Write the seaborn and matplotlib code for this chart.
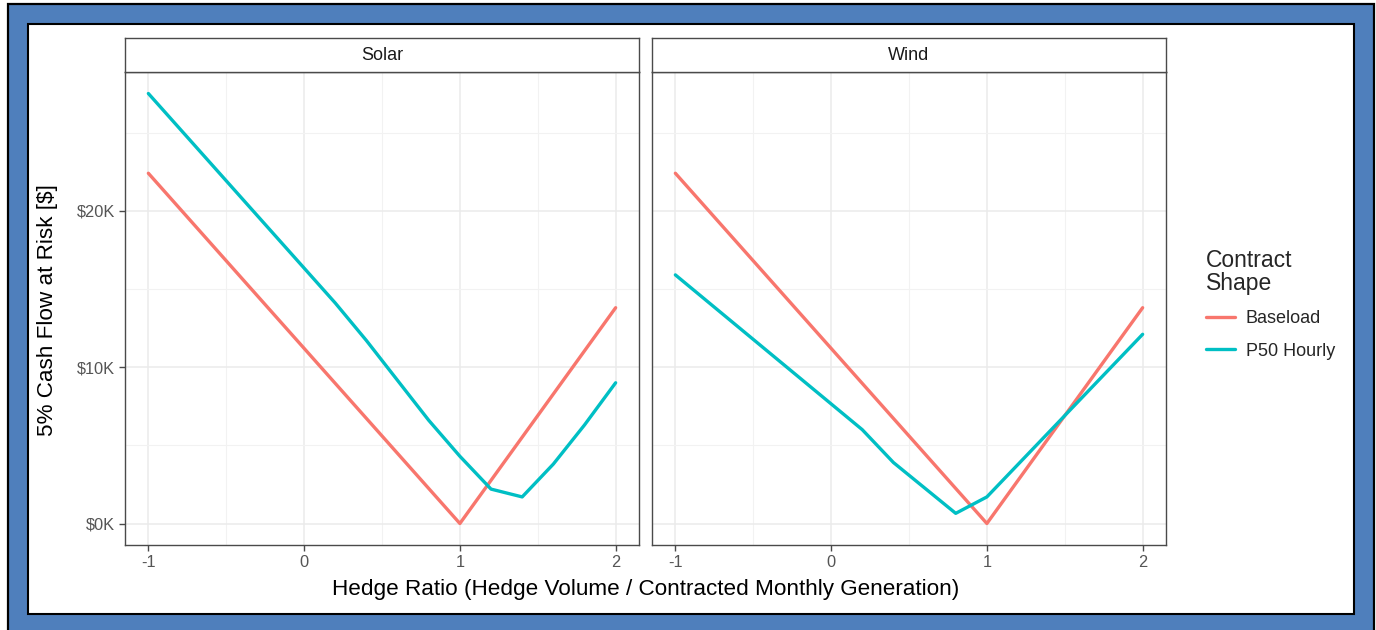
import matplotlib
matplotlib.use("Agg")
import matplotlib.pyplot as plt
from matplotlib.patches import Rectangle
from matplotlib.ticker import FuncFormatter, FixedLocator
import numpy as np
import pandas as pd
import seaborn as sns

# ---- data (cash flow at risk, dollars) ----
technologies = ["Solar", "Wind"]
shapes = ["Baseload", "P50 Hourly"]

solar_base_ratio = [-1.0, 1.0, 2.0]
solar_base_car = [22400, 0, 13800]

solar_p50_ratio = [-1.0, 0.2, 0.4, 0.8, 1.0, 1.2, 1.4, 1.6, 1.8, 2.0]
solar_p50_car = [27500, 14100, 11700, 6600, 4300, 2200, 1700, 3800, 6300, 9000]

wind_base_ratio = [-1.0, 1.0, 2.0]
wind_base_car = [22400, 0, 13800]

wind_p50_ratio = [-1.0, 0.2, 0.4, 0.8, 1.0, 2.0]
wind_p50_car = [15900, 6000, 3900, 650, 1700, 12100]

x_ticks = [-1, 0, 1, 2]
x_tick_labels = ["-1", "0", "1", "2"]
y_ticks = [0, 10000, 20000]


def block(tech, shape, xs, ys):
    return pd.DataFrame({"tech": tech, "shape": shape, "ratio": xs, "car": ys})


df = pd.concat([
    block("Solar", "Baseload", solar_base_ratio, solar_base_car),
    block("Solar", "P50 Hourly", solar_p50_ratio, solar_p50_car),
    block("Wind", "Baseload", wind_base_ratio, wind_base_car),
    block("Wind", "P50 Hourly", wind_p50_ratio, wind_p50_car),
], ignore_index=True)

palette = {"Baseload": "#F8766D", "P50 Hourly": "#00BFC4"}

sns.set_theme(style="white")
plt.rcParams["font.family"] = ["Liberation Sans", "DejaVu Sans"]

W, H = 1376, 630
fig = plt.figure(figsize=(W / 100, H / 100), dpi=100)


def fx(px):
    return px / W


def fy(py):
    return 1 - py / H


# outer frame: blue band with black outlines
fig.patches.append(Rectangle((fx(8), fy(632)), fx(1366), (632 - 4) / H,
                             transform=fig.transFigure, facecolor="#4F7FBC",
                             edgecolor="black", linewidth=1.6, zorder=0))
fig.patches.append(Rectangle((fx(28), fy(614)), fx(1326), (614 - 24) / H,
                             transform=fig.transFigure, facecolor="white",
                             edgecolor="black", linewidth=1.5, zorder=1))

panel_left = {"Solar": 125, "Wind": 652}
panel_w = 514
top_px, bot_px, strip_top = 72, 545, 38

tick_color = "#555555"
border_color = "#4A4A4A"
axes = {}
for tech in technologies:
    left = panel_left[tech]
    ax = fig.add_axes([fx(left), fy(bot_px), fx(panel_w), (bot_px - top_px) / H])
    ax.set_zorder(2)
    sub = df[df["tech"] == tech]
    sns.lineplot(data=sub, x="ratio", y="car", hue="shape", hue_order=shapes,
                 palette=palette, linewidth=2.4, ax=ax, legend=(tech == "Solar"),
                 estimator=None, sort=True)
    ax.set_xlim(-1.15, 2.15)
    ax.set_ylim(-1375, 28875)
    ax.xaxis.set_major_locator(FixedLocator(x_ticks))
    ax.set_xticklabels(x_tick_labels)
    ax.xaxis.set_minor_locator(FixedLocator([-0.5, 0.5, 1.5]))
    ax.yaxis.set_major_locator(FixedLocator(y_ticks))
    ax.yaxis.set_minor_locator(FixedLocator([5000, 15000, 25000]))
    ax.yaxis.set_major_formatter(FuncFormatter(lambda v, p: f"${v/1000:.0f}K"))
    ax.grid(True, which="major", color="#EBEBEB", linewidth=1.1)
    ax.grid(True, which="minor", color="#F2F2F2", linewidth=0.8)
    ax.set_axisbelow(True)
    for s in ax.spines.values():
        s.set_color(border_color)
        s.set_linewidth(1.0)
    ax.tick_params(axis="both", which="major", length=4, width=1.0,
                   color=border_color, labelcolor=tick_color, labelsize=11.8,
                   bottom=True, left=(tech == "Solar"), pad=3)
    ax.tick_params(which="minor", length=0)
    if tech != "Solar":
        ax.set_yticklabels([])
    ax.set_xlabel("")
    ax.set_ylabel("")

    # facet strip
    sax = fig.add_axes([fx(left), fy(top_px), fx(panel_w), (top_px - strip_top) / H])
    sax.set_zorder(2)
    sax.set_facecolor("white")
    sax.set_xticks([])
    sax.set_yticks([])
    for s in sax.spines.values():
        s.set_color(border_color)
        s.set_linewidth(1.0)
    sax.text(0.5, 0.5, tech, ha="center", va="center", fontsize=13,
             color="#1A1A1A", transform=sax.transAxes)
    axes[tech] = ax

handles, labels = axes["Solar"].get_legend_handles_labels()
axes["Solar"].get_legend().remove()
leg = fig.legend(handles, labels, title="Contract\nShape", loc="upper left",
                 bbox_to_anchor=(fx(1197), fy(240)), frameon=False, borderpad=0,
                 fontsize=13, title_fontsize=16.5, alignment="left",
                 handlelength=1.6, handletextpad=0.6, labelspacing=0.85)
leg.get_title().set_linespacing(1.0)
for ln in leg.get_lines():
    ln.set_linewidth(2.4)

fig.text(fx(645.5), fy(590), "Hedge Ratio (Hedge Volume / Contracted Monthly Generation)",
         ha="center", va="center", fontsize=16.2, color="black")
fig.text(fx(48), fy(310), "5% Cash Flow at Risk [$]", rotation=90,
         ha="center", va="center", fontsize=16.2, color="black")

fig.savefig("out.png", dpi=100)
